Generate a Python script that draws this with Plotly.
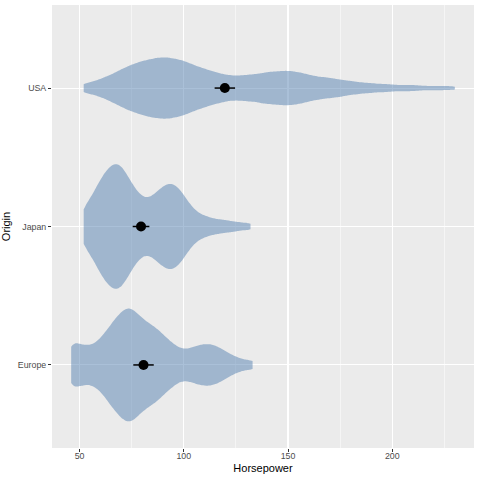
import numpy as np
import plotly.graph_objects as go

origins = ["Europe", "Japan", "USA"]

# horsepower values with the number of cars at each
hp_europe = [46, 48, 50, 52, 54, 56, 58, 60, 62, 64, 66, 68, 70, 72, 74, 76, 78, 80, 82, 84, 86, 88,
             90, 92, 94, 96, 98, 100, 102, 104, 106, 108, 110, 112, 114, 116, 118, 120, 122, 124,
             126, 128, 130, 133]
n_europe = [35, 19, 21, 20, 19, 19, 22, 26, 31, 37, 43, 48, 53, 56, 59, 55, 50, 46, 43, 40, 38, 35,
            30, 26, 23, 19, 16, 15, 16, 17, 19, 20, 21, 21, 20, 19, 16, 14, 11, 9,
            7, 6, 5, 9]

hp_japan = [52, 54, 56, 58, 60, 62, 64, 66, 68, 70, 72, 74, 76, 78, 80, 82, 84, 86, 88, 90,
            92, 94, 96, 98, 100, 102, 104, 106, 108, 110, 112, 114, 116, 118, 120, 122, 124, 126,
            128, 130, 132]
n_japan = [26, 22, 30, 38, 47, 53, 58, 62, 64, 61, 54, 46, 39, 33, 29, 26, 28, 32, 36, 40,
           42, 44, 41, 38, 31, 24, 19, 14, 12, 11, 9, 8, 7, 7, 6, 6, 5, 4,
           4, 3, 5]

hp_usa = [52, 54, 56, 58, 60, 62, 64, 66, 68, 70, 72, 74, 76, 78, 80, 82, 84, 86, 88, 90,
          92, 94, 96, 98, 100, 102, 104, 106, 108, 110, 112, 114, 116, 118, 120, 122, 124, 126, 128, 130,
          132, 134, 136, 138, 140, 142, 144, 146, 148, 150, 152, 154, 156, 158, 160, 162, 164, 166, 168, 170,
          172, 174, 176, 178, 180, 182, 184, 186, 188, 190, 192, 194, 196, 198, 200, 202, 204, 206, 208, 210,
          212, 214, 216, 218, 220, 222, 224, 226, 228, 230]
n_usa = [6, 5, 6, 7, 9, 10, 12, 14, 16, 18, 20, 22, 23, 25, 26, 27, 28, 29, 29, 30,
         30, 29, 28, 28, 26, 25, 23, 21, 20, 19, 17, 16, 15, 14, 13, 12, 12, 12, 12, 13,
         13, 13, 14, 15, 15, 16, 16, 16, 17, 17, 16, 16, 15, 14, 13, 12, 11, 11, 10, 10,
         9, 9, 8, 7, 7, 6, 6, 5, 5, 5, 4, 4, 4, 4, 3, 3, 3, 3, 3, 3,
         3, 2, 2, 2, 2, 2, 2, 2, 2, 2]

# mean and 95% interval half-width per origin
mean_hp = [80.7, 79.5, 119.7]
ci_hp = [4.9, 4.0, 4.9]

x_ticks = [50, 100, 150, 200]
x_minor = [75, 125, 175, 225]

groups = {"Europe": (hp_europe, n_europe), "Japan": (hp_japan, n_japan), "USA": (hp_usa, n_usa)}
xs, ys = [], []
for name, (hp, n) in groups.items():
    vals = np.repeat(hp, n)
    xs.append(vals)
    ys.append(np.full(len(vals), name))
x_all = np.concatenate(xs)
y_all = np.concatenate(ys)

fig = go.Figure()
fig.add_trace(go.Violin(
    x=x_all, y=y_all, orientation="h",
    bandwidth=2.5, spanmode="hard", width=0.9, scalemode="width",
    fillcolor="rgba(85,129,177,0.5)", line=dict(width=0, color="rgba(0,0,0,0)"),
    box_visible=False, meanline_visible=False, points=False,
    hoverinfo="skip", showlegend=False,
))
fig.add_trace(go.Scatter(
    x=mean_hp, y=origins, mode="markers",
    marker=dict(color="black", size=10),
    error_x=dict(type="data", array=ci_hp, width=0, thickness=1.5, color="black"),
    hoverinfo="skip", showlegend=False,
))

tick_font = dict(family="Liberation Sans, Arial, sans-serif", size=8.8, color="#4D4D4D")
title_font = dict(family="Liberation Sans, Arial, sans-serif", size=11, color="black")

fig.update_layout(
    width=480, height=480,
    margin=dict(l=52, r=6, t=5, b=32),
    plot_bgcolor="#EBEBEB", paper_bgcolor="white",
    font=dict(family="Liberation Sans, Arial, sans-serif"),
    hovermode=False,
)
fig.update_xaxes(
    range=[36.8, 239.2], tickvals=x_ticks, ticks="outside", ticklen=3, tickwidth=1,
    tickcolor="#333333", tickfont=tick_font, ticklabelstandoff=-4,
    showgrid=True, gridcolor="white", gridwidth=1.1, zeroline=False, showline=False,
    minor=dict(tickvals=x_minor, showgrid=True, gridcolor="white", gridwidth=0.5, ticks=""),
    title=dict(text="Horsepower", font=title_font, standoff=4),
)
fig.update_yaxes(
    type="category", categoryorder="array", categoryarray=origins, range=[-0.6, 2.6],
    ticks="outside", ticklen=3, tickwidth=1, tickcolor="#333333", tickfont=tick_font,
    showgrid=True, gridcolor="white", gridwidth=1.1, zeroline=False, showline=False,
    title=dict(text="Origin", font=title_font, standoff=5),
)

# the page's default 8px body margin would push the 480x480 figure off the window
fig.write_html("out.html", config={"staticPlot": True, "displayModeBar": False},
               post_script="document.body.style.margin = '0';")
